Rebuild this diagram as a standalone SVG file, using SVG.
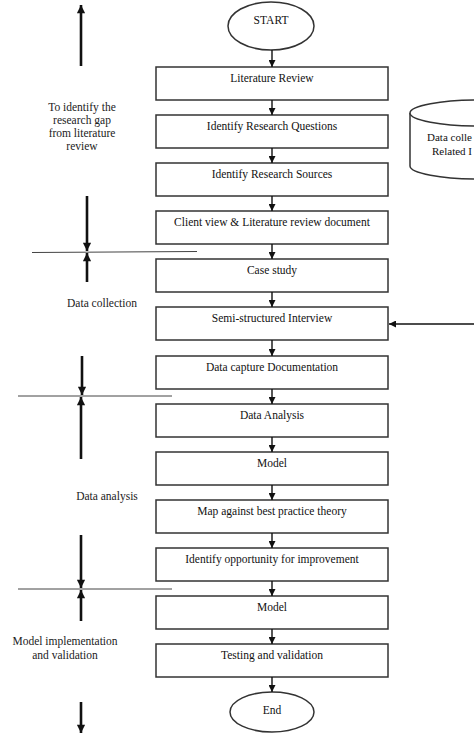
<svg xmlns="http://www.w3.org/2000/svg" width="474" height="733" viewBox="0 0 474 733">
<defs>
<style>
.box{fill:#fff;stroke:#333;stroke-width:1.5}
.t{font-family:"Liberation Serif","Times New Roman",serif;font-size:11.5px;fill:#111;text-anchor:middle}
.tl{font-family:"Liberation Serif","Times New Roman",serif;font-size:11.5px;fill:#222;text-anchor:middle}
.ds{font-family:"Liberation Serif","Times New Roman",serif;font-size:11px;fill:#111;text-anchor:start}
.c{stroke:#111;stroke-width:1.4;fill:none}
.big{stroke:#111;stroke-width:2.6;fill:none}
.sep{stroke:#444;stroke-width:1;fill:none}
</style>
<marker id="ah" viewBox="0 0 10 10" refX="10" refY="5" markerWidth="5" markerHeight="5" orient="auto" markerUnits="strokeWidth"><path d="M0,0 L10,5 L0,10 z" fill="#111"/></marker>
<marker id="bh" viewBox="0 0 10 10" refX="10" refY="5" markerWidth="3.6" markerHeight="3.2" orient="auto" markerUnits="strokeWidth"><path d="M0,0 L10,5 L0,10 z" fill="#111"/></marker>
</defs>
<rect width="474" height="733" fill="#fff"/>

<g id="start"><ellipse cx="271" cy="26" rx="43" ry="24" class="box"/><text x="271" y="24" class="t">START</text></g>
<g id="n1"><rect x="156" y="67" width="232" height="33" class="box"/><text x="272" y="82" class="t">Literature Review</text></g>
<g id="n2"><rect x="156" y="115" width="232" height="33" class="box"/><text x="272" y="130" class="t">Identify Research Questions</text></g>
<g id="n3"><rect x="156" y="163" width="232" height="33" class="box"/><text x="272" y="178" class="t">Identify Research Sources</text></g>
<g id="n4"><rect x="156" y="211" width="232" height="33" class="box"/><text x="272" y="226" class="t">Client view &amp; Literature review document</text></g>
<g id="n5"><rect x="156" y="259" width="232" height="33" class="box"/><text x="272" y="274" class="t">Case study</text></g>
<g id="n6"><rect x="156" y="307" width="232" height="33" class="box"/><text x="272" y="322" class="t">Semi-structured Interview</text></g>
<g id="n7"><rect x="156" y="356" width="232" height="33" class="box"/><text x="272" y="371" class="t">Data capture Documentation</text></g>
<g id="n8"><rect x="156" y="404" width="232" height="33" class="box"/><text x="272" y="419" class="t">Data Analysis</text></g>
<g id="n9"><rect x="156" y="452" width="232" height="33" class="box"/><text x="272" y="467" class="t">Model</text></g>
<g id="n10"><rect x="156" y="500" width="232" height="33" class="box"/><text x="272" y="515" class="t">Map against best practice theory</text></g>
<g id="n11"><rect x="156" y="548" width="232" height="33" class="box"/><text x="272" y="563" class="t">Identify opportunity for improvement</text></g>
<g id="n12"><rect x="156" y="596" width="232" height="33" class="box"/><text x="272" y="611" class="t">Model</text></g>
<g id="n13"><rect x="156" y="644" width="232" height="33" class="box"/><text x="272" y="659" class="t">Testing and validation</text></g>
<g id="end"><ellipse cx="272" cy="712" rx="42" ry="20" class="box"/><text x="272" y="714" class="t">End</text></g>

<g id="datastore">
<path d="M410,113 L410,166 A70,13 0 0 0 550,166 L550,113" class="box"/>
<ellipse cx="480" cy="113" rx="70" ry="13" class="box"/>
<text x="427" y="141" class="ds">Data colle</text>
<text x="432" y="155" class="ds">Related I</text>
</g>

<g id="connectors">
<line x1="272" y1="50" x2="272" y2="67" class="c" marker-end="url(#ah)"/>
<line x1="272" y1="100" x2="272" y2="115" class="c" marker-end="url(#ah)"/>
<line x1="272" y1="148" x2="272" y2="163" class="c" marker-end="url(#ah)"/>
<line x1="272" y1="196" x2="272" y2="211" class="c" marker-end="url(#ah)"/>
<line x1="272" y1="244" x2="272" y2="259" class="c" marker-end="url(#ah)"/>
<line x1="272" y1="292" x2="272" y2="307" class="c" marker-end="url(#ah)"/>
<line x1="272" y1="340" x2="272" y2="356" class="c" marker-end="url(#ah)"/>
<line x1="272" y1="389" x2="272" y2="404" class="c" marker-end="url(#ah)"/>
<line x1="272" y1="437" x2="272" y2="452" class="c" marker-end="url(#ah)"/>
<line x1="272" y1="485" x2="272" y2="500" class="c" marker-end="url(#ah)"/>
<line x1="272" y1="533" x2="272" y2="548" class="c" marker-end="url(#ah)"/>
<line x1="272" y1="581" x2="272" y2="596" class="c" marker-end="url(#ah)"/>
<line x1="272" y1="629" x2="272" y2="644" class="c" marker-end="url(#ah)"/>
<line x1="272" y1="677" x2="272" y2="692" class="c" marker-end="url(#ah)"/>
<line x1="474" y1="324" x2="389" y2="324" class="c" marker-end="url(#ah)"/>
</g>

<g id="phases">
<line x1="81" y1="66" x2="81" y2="5" class="big" marker-end="url(#bh)"/>
<text class="tl"><tspan x="82" y="111">To identify the</tspan><tspan x="82" y="124">research gap</tspan><tspan x="82" y="137">from literature</tspan><tspan x="82" y="150">review</tspan></text>
<line x1="87" y1="196" x2="87" y2="251" class="big" marker-end="url(#bh)"/>
<line x1="32" y1="252.5" x2="197" y2="251.5" class="sep"/>
<line x1="87" y1="282" x2="87" y2="253" class="big" marker-end="url(#bh)"/>
<text x="102" y="307" class="tl">Data collection</text>
<line x1="82" y1="356" x2="82" y2="395" class="big" marker-end="url(#bh)"/>
<line x1="18" y1="396" x2="172" y2="396" class="sep"/>
<line x1="81" y1="459" x2="81" y2="397" class="big" marker-end="url(#bh)"/>
<text x="107" y="500" class="tl">Data analysis</text>
<line x1="81" y1="535" x2="81" y2="588" class="big" marker-end="url(#bh)"/>
<line x1="18" y1="589" x2="172" y2="589" class="sep"/>
<line x1="81" y1="621" x2="81" y2="590" class="big" marker-end="url(#bh)"/>
<text class="tl"><tspan x="65" y="645">Model implementation</tspan><tspan x="65" y="659">and validation</tspan></text>
<line x1="81" y1="702" x2="81" y2="733" class="big" marker-end="url(#bh)"/>
</g>
</svg>
